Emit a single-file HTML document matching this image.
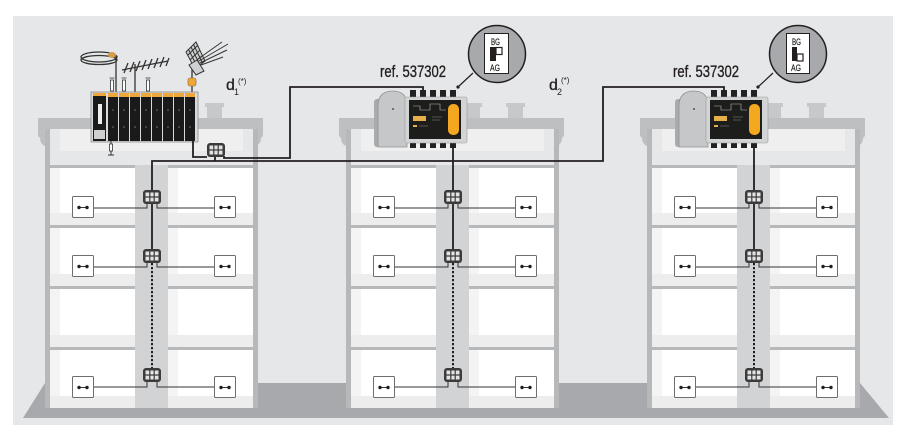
<!DOCTYPE html>
<html><head><meta charset="utf-8"><style>
html,body{margin:0;padding:0;background:#fff;}
svg{display:block;}
text{font-family:"Liberation Sans Narrow","Liberation Sans",sans-serif;fill:#231f20;}
</style></head><body>
<svg width="906" height="437" viewBox="0 0 906 437" xmlns="http://www.w3.org/2000/svg">
<defs>
 <g id="tap">
   <rect x="-9" y="-7" width="18" height="14" rx="3" fill="#3b3b3c"/>
   <rect x="-6.5" y="-4.5" width="13" height="9" fill="#e4e4e4"/>
   <path d="M-2.2 -4.5V4.5M2.2 -4.5V4.5M-6.5 0H6.5" stroke="#3b3b3c" stroke-width="1.2"/>
 </g>
 <g id="sock">
   <rect x="0.5" y="0.5" width="21" height="21" rx="1" fill="#fff" stroke="#6d6e71"/>
   <path d="M7 11.5H15" stroke="#231f20" stroke-width="0.9"/>
   <circle cx="7" cy="11.5" r="1.7" fill="#231f20"/>
   <circle cx="15" cy="11.5" r="1.7" fill="#231f20"/>
 </g>
 <g id="bld">
   <rect x="162" y="103" width="19" height="4" fill="#c6c8ca"/>
   <rect x="164" y="106" width="15" height="13" fill="#c6c8ca"/>
   <rect x="205" y="103" width="19" height="4" fill="#c6c8ca"/>
   <rect x="207" y="106" width="15" height="13" fill="#c6c8ca"/>
   <rect x="38" y="118" width="225" height="11" fill="#bdbfc1"/>
   <path d="M38 129H50V152H45V146Q40 144 40 138L38 136Z" fill="#bdbfc1"/>
   <path d="M263 129H251V152H256V146Q261 144 261 138L263 136Z" fill="#bdbfc1"/>
   <rect x="45" y="129" width="213" height="279" fill="#b6b8ba"/>
   <rect x="50" y="129" width="203" height="36" fill="#e6e7e8"/>
   <rect x="60" y="129" width="183" height="22" fill="#efeff0"/>
   <rect x="50" y="168" width="85" height="57" fill="#fff"/>
   <rect x="50" y="168" width="10" height="45" fill="#f4f4f5"/>
   <rect x="50" y="213" width="85" height="12" fill="#ededee"/>
   <rect x="168" y="168" width="85" height="57" fill="#fff"/>
   <rect x="168" y="168" width="10" height="45" fill="#f4f4f5"/>
   <rect x="168" y="213" width="85" height="12" fill="#ededee"/>
   <rect x="50" y="228" width="85" height="58" fill="#fff"/>
   <rect x="50" y="228" width="10" height="46" fill="#f4f4f5"/>
   <rect x="50" y="274" width="85" height="12" fill="#ededee"/>
   <rect x="168" y="228" width="85" height="58" fill="#fff"/>
   <rect x="168" y="228" width="10" height="46" fill="#f4f4f5"/>
   <rect x="168" y="274" width="85" height="12" fill="#ededee"/>
   <rect x="50" y="289" width="85" height="58" fill="#fff"/>
   <rect x="50" y="289" width="10" height="46" fill="#f4f4f5"/>
   <rect x="50" y="335" width="85" height="12" fill="#ededee"/>
   <rect x="168" y="289" width="85" height="58" fill="#fff"/>
   <rect x="168" y="289" width="10" height="46" fill="#f4f4f5"/>
   <rect x="168" y="335" width="85" height="12" fill="#ededee"/>
   <rect x="50" y="350" width="85" height="58" fill="#fff"/>
   <rect x="50" y="350" width="10" height="46" fill="#f4f4f5"/>
   <rect x="50" y="396" width="85" height="12" fill="#ededee"/>
   <rect x="168" y="350" width="85" height="58" fill="#fff"/>
   <rect x="168" y="350" width="10" height="46" fill="#f4f4f5"/>
   <rect x="168" y="396" width="85" height="12" fill="#ededee"/>
   <rect x="135" y="165" width="33" height="243" fill="#d1d3d4"/>
 </g>
 <g id="wire">
   <path d="M152 204V250" stroke="#231f20" stroke-width="1.8" fill="none"/>
   <path d="M152 263V369" stroke="#231f20" stroke-width="2" stroke-dasharray="2.2 1.8" fill="none"/>
   <path d="M147 204V208H93M157 204V208H215M147 263V267H93M157 263V267H215M147 382V387H93M157 382V387H215" stroke="#333" stroke-width="1" fill="none"/>
   <use href="#tap" x="152" y="197"/>
   <use href="#tap" x="152" y="256"/>
   <use href="#tap" x="152" y="375"/>
   <use href="#sock" x="72" y="196"/>
   <use href="#sock" x="214" y="196"/>
   <use href="#sock" x="72" y="255"/>
   <use href="#sock" x="214" y="255"/>
   <use href="#sock" x="72" y="376"/>
   <use href="#sock" x="214" y="376"/>
 </g>
 <g id="amp">
   <rect x="374" y="99" width="10" height="48" rx="3" fill="#a9abae"/>
   <path d="M378 147V106Q378 91 393 91Q406 91 407 104V147Z" fill="#c5c7c9" stroke="#8f9194" stroke-width="0.8"/>
   <circle cx="393" cy="109" r="1" fill="#555"/>
   <rect x="410" y="90" width="6" height="8" fill="#222"/>
   <rect x="420" y="90" width="6" height="8" fill="#222"/>
   <rect x="430" y="90" width="6" height="8" fill="#222"/>
   <rect x="440" y="90" width="6" height="8" fill="#222"/>
   <rect x="450" y="90" width="6" height="8" fill="#222"/>
   <rect x="410" y="141" width="6" height="7" fill="#222"/>
   <rect x="420" y="141" width="6" height="7" fill="#222"/>
   <rect x="430" y="141" width="6" height="7" fill="#222"/>
   <rect x="440" y="141" width="6" height="7" fill="#222"/>
   <rect x="450" y="141" width="6" height="7" fill="#222"/>
   <rect x="405" y="97" width="62" height="46" rx="2" fill="#d3d4d5" stroke="#999" stroke-width="0.6"/>
   <rect x="409" y="100" width="52" height="39" fill="#1d1d1b"/>
   <rect x="448" y="104" width="11" height="31" rx="5" fill="#f3a81f"/>
   <path d="M413 106H420V110H430V104H440V110H446" stroke="#bbb" stroke-width="0.6" fill="none"/>
   <rect x="413" y="116" width="13" height="5" fill="#e8b04a"/>
   <rect x="413" y="125" width="4" height="2" fill="#e8b04a"/>
   <path d="M419 126H428M432 117H442M432 120H440" stroke="#888" stroke-width="0.6"/>
 </g>
</defs>

<rect x="13" y="16" width="880" height="409" fill="#e6e7e8"/>
<polygon points="23,418 45,383 860,383 889,418" fill="#a7a9ac"/>

<use href="#bld"/>
<use href="#bld" x="301"/>
<use href="#bld" x="602"/>

<g stroke="#333" fill="none" stroke-width="1.3">
  <ellipse cx="99" cy="57" rx="18" ry="5"/>
  <ellipse cx="99" cy="60" rx="18" ry="4.5"/>
  <path d="M116 56V93"/>
  <path d="M135 64V93"/>
  <path d="M122 70L168 61"/>
  <path d="M124 73L128 63M130 72L134 62M136 71L140 61M142 70L146 60M148 69L152 59M154 68L158 58M160 67L164 57M166 66L169 58"/>
  <path d="M192 68V93"/>
</g>
<ellipse cx="112" cy="55" rx="4" ry="3" fill="#d79b4a"/>
<g stroke="#333" stroke-width="1" fill="none">
  <polygon points="186,52 196,42 205,61 195,69" fill="#cfd0d1"/>
  <path d="M188.5 49.5L197.5 67M191 47L200 65M193.5 44.5L202.5 63M188 55L198 45M190 60L200 50M192 64L202 56"/>
  <polygon points="189,65 197,60 204,71 196,75" fill="#cfd0d1"/>
  <path d="M199 61L228 44M200 63L227 50M201 65L223 57M198 59L222 42"/>
</g>
<rect x="188" y="78" width="8" height="8" rx="2" fill="#f0a73a" stroke="#8a6a2a" stroke-width="0.6"/>
<g stroke="#333" stroke-width="0.8" fill="#fff">
  <path d="M109.5 78H114.5M121.5 78H126.5M145.5 78H150.5" fill="none"/>
  <rect x="110.5" y="80" width="3" height="11"/>
  <rect x="122.5" y="80" width="3" height="11"/>
  <rect x="146.5" y="80" width="3" height="11"/>
</g>
<rect x="91" y="92" width="107" height="50" fill="#d8d9da" stroke="#8a8c8e" stroke-width="0.8"/>
<rect x="93" y="93" width="13" height="48" fill="#1a1a1a"/>
<rect x="98" y="104" width="4" height="20" fill="#eee"/>
<rect x="94" y="130" width="11" height="9" fill="#cfcfcf"/>
<g fill="#1a1a1a">
  <rect x="108" y="93" width="10" height="48"/>
  <rect x="119" y="93" width="10" height="48"/>
  <rect x="130" y="93" width="10" height="48"/>
  <rect x="141" y="93" width="10" height="48"/>
  <rect x="152" y="93" width="10" height="48"/>
  <rect x="163" y="93" width="10" height="48"/>
  <rect x="174" y="93" width="10" height="48"/>
  <rect x="185" y="93" width="10" height="48"/>
</g>
<g fill="#f0a73a">
  <rect x="108" y="93" width="10" height="4"/>
  <rect x="119" y="93" width="10" height="4"/>
  <rect x="130" y="93" width="10" height="4"/>
  <rect x="141" y="93" width="10" height="4"/>
  <rect x="152" y="93" width="10" height="4"/>
  <rect x="163" y="93" width="10" height="4"/>
  <rect x="174" y="93" width="10" height="4"/>
  <rect x="185" y="93" width="10" height="4"/>
  <rect x="93" y="93" width="13" height="3"/>
</g>
<g fill="#777">
  <circle cx="113" cy="110" r="0.8"/><circle cx="124" cy="110" r="0.8"/><circle cx="135" cy="110" r="0.8"/><circle cx="146" cy="110" r="0.8"/>
  <circle cx="157" cy="110" r="0.8"/><circle cx="168" cy="110" r="0.8"/><circle cx="179" cy="110" r="0.8"/><circle cx="190" cy="110" r="0.8"/>
  <circle cx="113" cy="127" r="0.8"/><circle cx="124" cy="127" r="0.8"/><circle cx="135" cy="127" r="0.8"/><circle cx="146" cy="127" r="0.8"/>
  <circle cx="157" cy="127" r="0.8"/><circle cx="168" cy="127" r="0.8"/><circle cx="179" cy="127" r="0.8"/><circle cx="190" cy="127" r="0.8"/>
</g>
<path d="M111 141V155M108 155H114" stroke="#333" stroke-width="1"/>
<rect x="109.5" y="144" width="3" height="7" fill="#fff" stroke="#333" stroke-width="0.8"/>

<use href="#amp"/>
<use href="#amp" x="301"/>

<g stroke="#231f20" stroke-width="1.8" fill="none">
  <path d="M193 141V157H207"/>
  <path d="M224 156V158H290V87H423V91"/>
  <path d="M152 190V161H603V87H724V91"/>
  <path d="M215 156V161"/>
  <path d="M453 147V190"/>
  <path d="M754 147V190"/>
</g>
<use href="#tap" x="216" y="150"/>

<use href="#wire"/>
<use href="#wire" x="301"/>
<use href="#wire" x="602"/>

<path d="M458 87L473 73" stroke="#231f20" stroke-width="1.2"/>
<circle cx="458" cy="87" r="1.6" fill="#231f20"/>
<circle cx="497" cy="54" r="28.5" fill="#a7a9ac" stroke="#231f20" stroke-width="1.5"/>
<rect x="484.5" y="33.5" width="24" height="40" fill="#fff" stroke="#231f20" stroke-width="1"/>
<text x="491" y="45" font-size="9.5" textLength="9" lengthAdjust="spacingAndGlyphs" stroke="#231f20" stroke-width="0.2">BG</text>
<text x="490" y="71" font-size="9.5" textLength="10" lengthAdjust="spacingAndGlyphs" stroke="#231f20" stroke-width="0.2">AG</text>
<rect x="490" y="47" width="6" height="14" fill="#231f20"/>
<rect x="496" y="47.5" width="6" height="7" fill="none" stroke="#231f20" stroke-width="1.2"/>

<path d="M758 87L773 73" stroke="#231f20" stroke-width="1.2"/>
<circle cx="758" cy="87" r="1.6" fill="#231f20"/>
<circle cx="798" cy="54" r="28.5" fill="#a7a9ac" stroke="#231f20" stroke-width="1.5"/>
<rect x="786.5" y="33.5" width="23" height="40" fill="#fff" stroke="#231f20" stroke-width="1"/>
<text x="792" y="45" font-size="9.5" textLength="9" lengthAdjust="spacingAndGlyphs" stroke="#231f20" stroke-width="0.2">BG</text>
<text x="791" y="71" font-size="9.5" textLength="10" lengthAdjust="spacingAndGlyphs" stroke="#231f20" stroke-width="0.2">AG</text>
<rect x="792" y="47" width="5" height="14" fill="#231f20"/>
<rect x="797" y="54" width="6" height="7" fill="none" stroke="#231f20" stroke-width="1.2"/>

<text x="380" y="77" font-size="17" textLength="66" lengthAdjust="spacingAndGlyphs" stroke="#231f20" stroke-width="0.35">ref. 537302</text>
<text x="673" y="77" font-size="17" textLength="66" lengthAdjust="spacingAndGlyphs" stroke="#231f20" stroke-width="0.35">ref. 537302</text>
<text x="226" y="90" font-size="16" stroke="#231f20" stroke-width="0.3">d</text>
<text x="234" y="95" font-size="9">1</text>
<text x="238" y="84" font-size="8">(*)</text>
<text x="549" y="90" font-size="16" stroke="#231f20" stroke-width="0.3">d</text>
<text x="557" y="95" font-size="9">2</text>
<text x="561" y="83" font-size="8">(*)</text>
</svg>
</body></html>
